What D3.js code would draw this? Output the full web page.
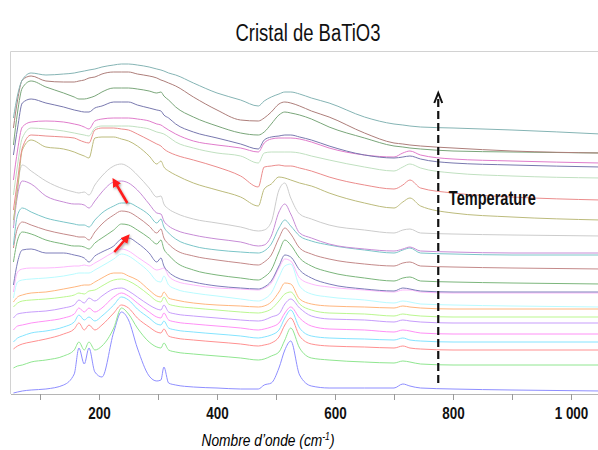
<!DOCTYPE html>
<html>
<head>
<meta charset="utf-8">
<script src="https://cdnjs.cloudflare.com/ajax/libs/d3/7.8.5/d3.min.js"></script>
<style>
    body { margin: 0; background: #fff; }
    svg { display: block; }
</style>
</head>
<body>
<div id="chart-area"></div>
<script>
// DATA
// =====

// Raman shift (cm-1) where each spectrum is read
var wavenumbers = [55, 62, 70, 85, 110, 140, 158, 166, 175, 183, 193, 205, 225, 238, 250, 265, 285, 298, 305, 310,
    318, 330, 360, 400, 440, 470, 480, 492, 505, 515, 525, 540, 560, 590, 650, 700, 715, 727, 745, 800, 900, 1050];

// intensity (a.u., with offsets), highest temperature first
var s01 = [282, 305, 320, 327, 325, 326, 327, 328, 329, 330, 331, 333, 335, 336, 336, 335, 333, 331, 330, 329, 327, 325, 317, 307, 300, 294, 299, 303, 306, 308, 308, 306, 302, 297, 283, 276, 275, 274, 273, 272, 270, 266];
var s02 = [272, 300, 320, 324, 319, 318, 318, 319, 320, 322, 323, 326, 328, 328, 328, 326, 324, 322, 320, 319, 317, 314, 303, 290, 280, 279, 282, 288, 296, 298, 297, 294, 289, 283, 267, 257, 256, 255, 254, 252, 249, 247];
var s03 = [255, 288, 312, 319, 313, 307, 303, 301, 301, 302, 304, 308, 312, 312, 312, 311, 309, 307, 308, 304, 300, 293, 283, 274, 267, 265, 268, 276, 285, 288, 287, 285, 281, 273, 262, 254, 253, 252, 251, 249, 248, 247];
var s04 = [245, 272, 297, 301, 297, 293, 290, 289, 288, 288, 292, 294, 298, 298, 298, 295, 292, 290, 289, 285, 282, 276, 268, 262, 256, 251, 260, 263, 264, 265, 265, 263, 260, 254, 245, 242, 243, 244, 241, 237, 235, 233];
var s05 = [220, 250, 273, 278, 279, 278, 276, 275, 273, 271, 279, 281, 282, 282, 282, 281, 279, 276, 275, 273, 270, 266, 259, 255, 252, 248, 257, 261, 262, 262, 262, 261, 258, 252, 245, 243, 247, 249, 245, 241, 239, 237];
var s06 = [205, 235, 262, 272, 271, 269, 267, 266, 265, 264, 272, 274, 274, 274, 274, 273, 271, 268, 267, 266, 263, 258, 252, 247, 244, 237, 247, 248, 248, 248, 248, 247, 244, 240, 233, 229, 233, 236, 232, 227, 224, 222];
var s07 = [190, 220, 252, 265, 264, 263, 262, 260, 258, 257, 270, 272, 272, 271, 270, 266, 260, 256, 254, 251, 248, 245, 240, 233, 224, 213, 233, 234, 235, 234, 234, 232, 229, 223, 215, 211, 215, 220, 212, 207, 203, 200];
var s08 = [180, 210, 250, 260, 253, 251, 248, 246, 244, 242, 262, 263, 263, 261, 259, 254, 244, 236, 239, 233, 229, 225, 217, 210, 203, 194, 211, 216, 223, 222, 220, 217, 214, 207, 197, 192, 198, 202, 194, 187, 183, 180];
var s09 = [175, 215, 235, 229, 219, 211, 208, 207, 208, 205, 215, 224, 234, 236, 233, 225, 212, 203, 204, 196, 191, 187, 181, 177, 173, 169, 170, 178, 210, 217, 202, 186, 181, 175, 170, 167, 170, 171, 167, 166, 165, 164];
var s10 = [172, 205, 219, 216, 204, 198, 196, 196, 195, 192, 199, 208, 218, 219, 217, 210, 196, 187, 186, 179, 174, 170, 165, 161, 158, 154, 155, 164, 188, 196, 186, 167, 162, 156, 151, 149, 151, 153, 149, 148, 147, 147];
var s11 = [155, 185, 192, 188, 182, 178, 176, 175, 175, 173, 180, 187, 194, 197, 197, 193, 185, 177, 181, 173, 167, 161, 154, 150, 148, 147, 149, 156, 172, 180, 174, 164, 159, 155, 150, 147, 150, 152, 147, 146, 145, 145];
var s12 = [152, 172, 178, 175, 170, 166, 164, 163, 163, 160, 168, 176, 185, 189, 188, 183, 174, 167, 171, 162, 156, 150, 144, 140, 137, 135, 138, 145, 162, 172, 166, 152, 146, 141, 136, 134, 137, 138, 134, 133, 132, 131];
var s13 = [138, 160, 168, 166, 160, 156, 154, 154, 153, 151, 157, 162, 170, 176, 175, 170, 162, 156, 160, 151, 145, 138, 130, 125, 122, 120, 123, 130, 148, 160, 155, 142, 134, 128, 122, 119, 122, 123, 119, 118, 117, 116];
var s14 = [115, 138, 150, 151, 147, 147, 145, 144, 142, 138, 144, 148, 154, 161, 162, 157, 147, 138, 142, 134, 128, 123, 118, 114, 112, 111, 113, 119, 134, 145, 143, 130, 122, 116, 111, 109, 112, 111, 109, 108, 108, 108];
var s15 = [108, 128, 131, 132, 132, 133, 134, 134, 135, 134, 137, 141, 148, 151, 149, 143, 135, 130, 131, 132, 124, 119, 115, 112, 111, 110, 112, 117, 132, 141, 139, 122, 116, 113, 110, 108, 110, 110, 108, 107, 107, 107];
var s16 = [102, 118, 120, 121, 122, 124, 126, 127, 127, 127, 130, 134, 141, 146, 144, 138, 128, 119, 118, 124, 115, 111, 107, 104, 101, 99, 101, 107, 123, 134, 136, 114, 106, 103, 100, 97, 99, 98, 96, 95, 94, 93];
var s17 = [98, 103, 105, 107, 108, 111, 113, 114, 115, 115, 118, 122, 127, 127, 124, 120, 110, 104, 103, 108, 102, 100, 97, 95, 94, 93, 94, 98, 108, 117, 116, 101, 96, 94, 93, 92, 94, 93, 92, 91, 91, 91];
var s18 = [93, 97, 99, 100, 101, 103, 105, 107, 106, 109, 110, 114, 120, 121, 119, 114, 105, 99, 98, 103, 96, 94, 92, 90, 88, 87, 88, 91, 99, 106, 108, 96, 90, 87, 86, 84, 86, 85, 84, 83, 83, 83];
var s19 = [82, 86, 87, 88, 89, 92, 95, 100, 97, 102, 99, 104, 111, 112, 109, 103, 95, 91, 90, 95, 88, 86, 84, 82, 80, 79, 80, 83, 86, 96, 101, 92, 84, 81, 80, 78, 80, 79, 78, 77, 77, 77];
var s20 = [70, 74, 75, 77, 79, 82, 86, 92, 88, 92, 88, 92, 103, 107, 104, 97, 88, 83, 82, 87, 80, 78, 76, 74, 72, 70, 71, 73, 77, 87, 93, 82, 74, 71, 70, 68, 70, 69, 67, 66, 66, 66];
var s21 = [58, 62, 64, 67, 69, 73, 78, 85, 80, 83, 79, 84, 95, 103, 100, 91, 82, 76, 75, 79, 72, 70, 68, 66, 64, 62, 63, 65, 70, 82, 90, 72, 64, 62, 61, 60, 62, 60, 59, 58, 58, 58];
var s22 = [51, 54, 56, 58, 61, 66, 71, 77, 70, 75, 70, 75, 87, 95, 92, 82, 73, 68, 67, 71, 64, 62, 60, 58, 56, 54, 55, 57, 63, 75, 82, 64, 56, 54, 53, 52, 54, 52, 51, 50, 50, 50];
var s23 = [32, 34, 35, 38, 40, 44, 50, 58, 50, 58, 50, 54, 72, 92, 86, 72, 58, 53, 52, 57, 50, 48, 46, 44, 42, 40, 41, 44, 48, 60, 72, 52, 42, 40, 38, 37, 39, 38, 36, 35, 35, 35];
var s24 = [7, 8, 9, 10, 11, 15, 26, 52, 36, 52, 28, 23, 68, 88, 80, 52, 24, 19, 20, 33, 17, 15, 13, 12, 11, 11, 15, 17, 32, 50, 59, 25, 14, 12, 12, 12, 16, 14, 12, 11, 10, 9];

var spectra = [s01, s02, s03, s04, s05, s06, s07, s08, s09, s10, s11, s12,
    s13, s14, s15, s16, s17, s18, s19, s20, s21, s22, s23, s24];

// x ticks
var xTicks = [100, 200, 300, 400, 500, 600, 700, 800, 900, 1000];

// annotations (data units)
var tempArrow = {v: 775, from: 17, to: 307};
var tempLabel = {v: 793, i: 195, text: 'Temperature'};
var redArrows = [
    {v1: 248, i1: 197, v2: 226, i2: 219},
    {v1: 226, i1: 148, v2: 248, i2: 163}
];

// STYLE
var colors = ['#85b4b4', '#ad7e7a', '#7aa67a', '#7878ae', '#e07ccb', '#c0e0c0', '#eb8c8c', '#bcbb7c',
    '#cccccc', '#c78cd6', '#7bc5c8', '#c48a8a', '#7cb67c', '#7e7eba', '#fdb8fd', '#b9fbff',
    '#ffb67e', '#bbf78f', '#c79dfb', '#ff90f6', '#84e4ff', '#ff9090', '#90e690', '#8e8eff'];

var narrow = '"Liberation Sans Narrow", "Arial Narrow", "Liberation Sans", sans-serif';


// CANVAS
// =======

var W = 598, H = 450;
var plot = {left: 10.5, top: 51.5, right: 598, bottom: 394};

var svg = d3.select('#chart-area')
    .append('svg')
        .attr('width', W)
        .attr('height', H);

var defs = svg.append('defs');
defs.append('clipPath')
    .attr('id', 'clip')
    .append('rect')
        .attr('x', plot.left)
        .attr('y', plot.top)
        .attr('width', plot.right - plot.left)
        .attr('height', plot.bottom - plot.top);

defs.append('marker')
    .attr('id', 'redhead')
    .attr('viewBox', '0 0 10 10')
    .attr('refX', 6)
    .attr('refY', 5)
    .attr('markerWidth', 9)
    .attr('markerHeight', 9)
    .attr('markerUnits', 'userSpaceOnUse')
    .attr('orient', 'auto')
    .append('path')
        .attr('d', 'M0,0 L10,5 L0,10 z')
        .attr('fill', '#ff1a1a');

var shadow = defs.append('filter')
    .attr('id', 'shadow')
    .attr('x', '-50%').attr('y', '-50%')
    .attr('width', '200%').attr('height', '200%');
shadow.append('feDropShadow')
    .attr('dx', 1)
    .attr('dy', 1.5)
    .attr('stdDeviation', 1)
    .attr('flood-color', '#000')
    .attr('flood-opacity', 0.35);

// SCALES
var x = d3.scaleLinear().domain([50, 1050]).range([10.5, 600.5]);
var y = d3.scaleLinear().domain([0, 350]).range([400, 50]);

// frame
svg.append('line')
    .attr('x1', plot.left).attr('x2', plot.right)
    .attr('y1', plot.top).attr('y2', plot.top)
    .attr('stroke', '#d2d2d2');
svg.append('line')
    .attr('x1', plot.left).attr('x2', plot.left)
    .attr('y1', plot.top).attr('y2', plot.bottom)
    .attr('stroke', '#d2d2d2');

// TITLE
svg.append('text')
    .attr('x', 308)
    .attr('y', 41)
    .attr('text-anchor', 'middle')
    .attr('font-family', narrow)
    .attr('font-size', '23px')
    .attr('textLength', 145)
    .attr('lengthAdjust', 'spacingAndGlyphs')
    .attr('fill', '#111')
    .text('Cristal de BaTiO3');

// SPECTRA
var line = d3.line()
    .x((d, i) => x(wavenumbers[i]))
    .y(d => y(d))
    .curve(d3.curveMonotoneX);

svg.append('g')
    .attr('clip-path', 'url(#clip)')
    .selectAll('path')
    .data(spectra.slice().reverse())
    .enter()
    .append('path')
        .attr('d', line)
        .attr('fill', 'none')
        .attr('stroke', (d, i) => colors[spectra.length - 1 - i])
        .attr('stroke-width', 1)
        .attr('stroke-linejoin', 'round');

// X AXIS
var frFormat = d3.formatLocale({decimal: ',', thousands: ' ', grouping: [3], currency: ['', ' €']}).format(',');

var xAxisCall = d3.axisBottom(x)
    .tickValues(xTicks)
    .tickSize(6)
    .tickSizeOuter(0)
    .tickPadding(8)
    .tickFormat(d => d % 200 === 0 ? frFormat(d) : '');

var xAxis = svg.append('g')
    .attr('class', 'x axis')
    .attr('transform', 'translate(0,' + plot.bottom + ')')
    .call(xAxisCall);

xAxis.select('.domain').attr('stroke', '#b5b5b5');
xAxis.selectAll('.tick line').attr('stroke', '#9a9a9a');
xAxis.selectAll('.tick text')
    .attr('font-family', narrow)
    .attr('font-size', '16px')
    .attr('font-weight', 'bold')
    .attr('fill', '#111')
    .each(function() {
        var len = this.getComputedTextLength();
        if (len > 0) {
            d3.select(this)
                .attr('textLength', len * 0.84)
                .attr('lengthAdjust', 'spacingAndGlyphs');
        }
    });

// axis label (condensed by a horizontal scale, keeps the superscript in place)
var xLabel = svg.append('text')
    .attr('transform', 'translate(268,446) scale(0.86,1)')
    .attr('text-anchor', 'middle')
    .attr('font-family', narrow)
    .attr('font-size', '16px')
    .attr('font-style', 'italic')
    .attr('fill', '#000');
xLabel.append('tspan').text('Nombre d\u2019onde (cm');
xLabel.append('tspan').attr('font-size', '10px').attr('dy', -6).text('-1');
xLabel.append('tspan').attr('dy', 6).text(')');

// ANNOTATIONS
var ax = x(tempArrow.v), ayTop = y(tempArrow.to), ayBottom = y(tempArrow.from);
svg.append('line')
    .attr('x1', ax).attr('x2', ax)
    .attr('y1', ayBottom).attr('y2', ayTop + 2)
    .attr('stroke', '#111')
    .attr('stroke-width', 2.2)
    .attr('stroke-dasharray', '8,4');
svg.append('path')
    .attr('d', 'M' + (ax - 4) + ',' + (ayTop + 10) + ' L' + ax + ',' + ayTop + ' L' + (ax + 4) + ',' + (ayTop + 10))
    .attr('fill', 'none')
    .attr('stroke', '#111')
    .attr('stroke-width', 2);

svg.append('text')
    .attr('x', x(tempLabel.v))
    .attr('y', y(tempLabel.i))
    .attr('font-family', narrow)
    .attr('font-size', '20px')
    .attr('font-weight', 'bold')
    .attr('textLength', 87)
    .attr('lengthAdjust', 'spacingAndGlyphs')
    .attr('fill', '#111')
    .text(tempLabel.text);

svg.selectAll('.red-arrow')
    .data(redArrows)
    .enter()
    .append('line')
        .attr('class', 'red-arrow')
        .attr('x1', d => x(d.v1))
        .attr('y1', d => y(d.i1))
        .attr('x2', d => x(d.v2))
        .attr('y2', d => y(d.i2))
        .attr('stroke', '#ff1a1a')
        .attr('stroke-width', 2.5)
        .attr('marker-end', 'url(#redhead)')
        .attr('filter', 'url(#shadow)');
</script>
</body>
</html>
